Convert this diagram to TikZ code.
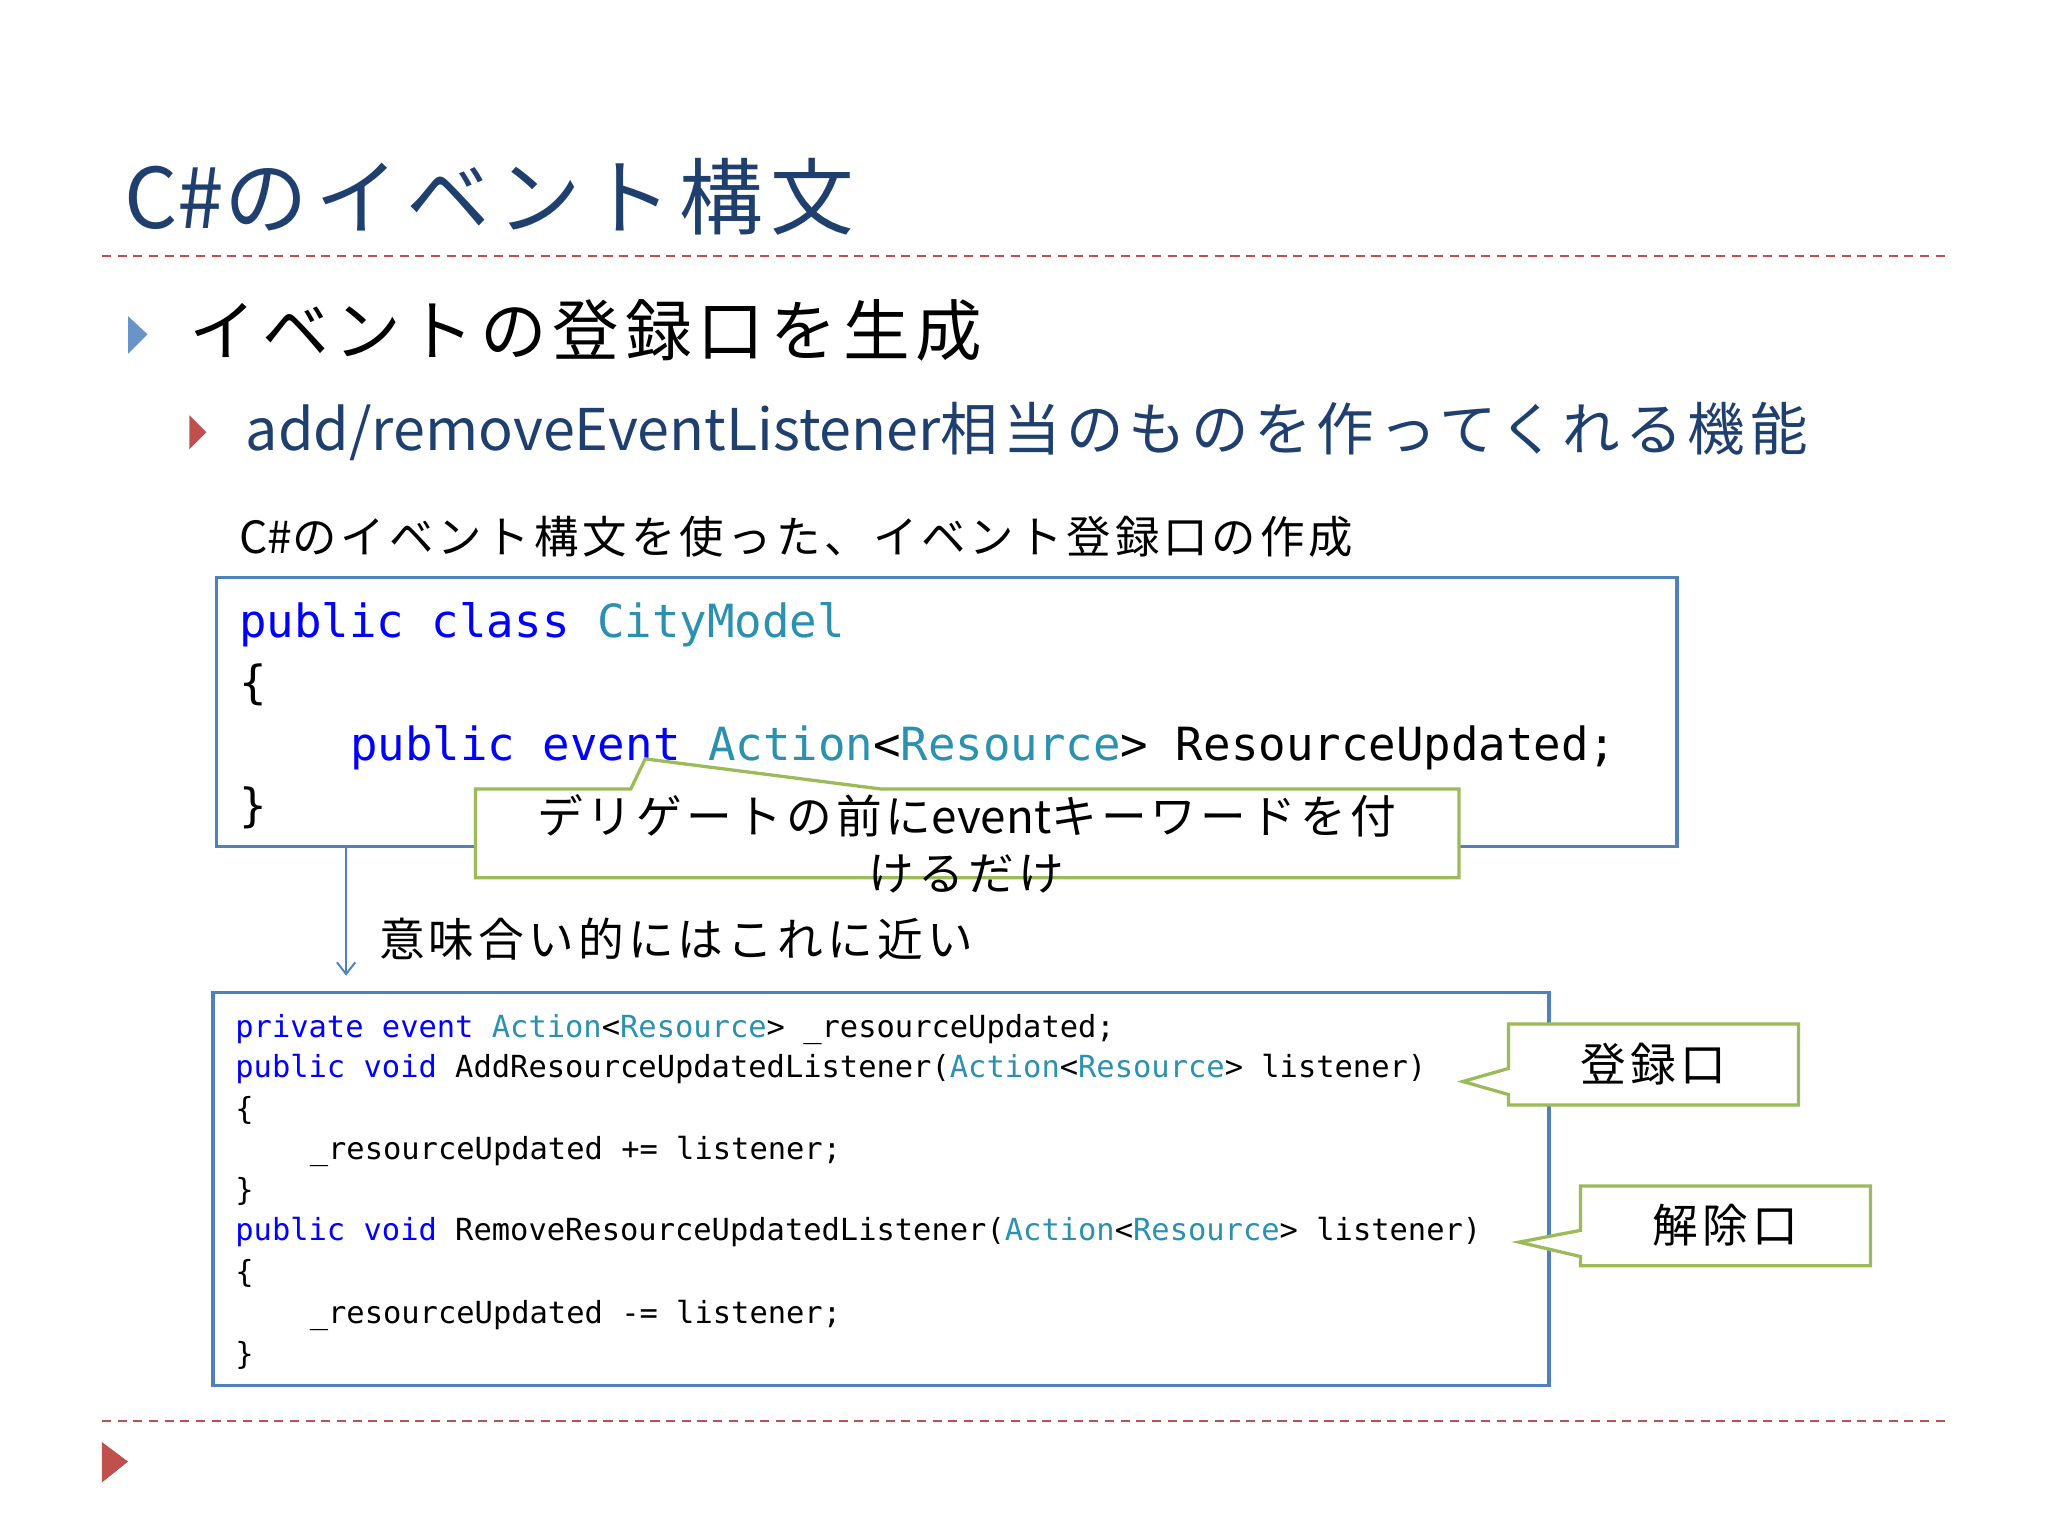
\documentclass[tikz,border=0pt]{standalone}
\usepackage{fontspec}
\setmainfont{Noto Sans CJK JP}
\newfontfamily\jfont[LetterSpace=9]{Noto Sans CJK JP}
\setmonofont{DejaVu Sans Mono}
\usetikzlibrary{arrows.meta}
\definecolor{ttl}{HTML}{1F3F6E}
\definecolor{redd}{HTML}{C0504D}
\definecolor{boxb}{HTML}{4F81BD}
\definecolor{grn}{HTML}{9BBB59}
\definecolor{kw}{HTML}{0000FF}
\definecolor{ty}{HTML}{2B91AF}
\tikzset{txt/.style={anchor=base west,inner sep=0pt},
 sep/.style={redd,dashed,line width=1.5pt,dash pattern=on 7pt off 5pt},
 codebox/.style={draw=boxb,line width=2.5pt},
 callout/.style={draw=grn,line width=2.5pt,fill=white,line join=miter}}
\newcommand{\K}[1]{\textcolor{kw}{#1}}
\newcommand{\T}[1]{\textcolor{ty}{#1}}
\newcommand{\J}[1]{{\jfont #1}}
\begin{document}
\begin{tikzpicture}[x=1pt,y=-1pt]
\useasboundingbox (0,0) rectangle (1568,1176);
\fill[white] (0,0) rectangle (1568,1176);
\node[txt,text=ttl,font=\fontsize{64}{70}\selectfont] (title) at (95,175) {C\#\J{のイベント構文}};
\draw[sep] (78,196) -- (1490,196);
\fill[boxb!85] (98,242) -- (113,256) -- (98,271) -- cycle;
\node[txt,font=\fontsize{51}{56}\selectfont] (b1) at (145,272) {\J{イベントの登録口を生成}};
\fill[redd] (145,318) -- (158,331) -- (145,344) -- cycle;
\node[txt,text=ttl,font=\fontsize{44}{50}\selectfont] (b2) at (188,345) {add/removeEventListener\J{相当のものを作ってくれる機能}};
\node[txt,font=\fontsize{34}{40}\selectfont] (cap) at (183,424) {C\#\J{のイベント構文を使った、イベント登録口の作成}};
\draw[codebox] (166,442) rectangle (1284,648);
\begin{scope}[every node/.style={txt,font=\ttfamily\fontsize{35}{40}\selectfont}]
\node (c1) at (183,488) {\K{public class} \T{CityModel}};
\node (c2) at (183,535) {\{};
\node (c3) at (268,582) {\K{public event} \T{Action}<\T{Resource}> ResourceUpdated;};
\node (c4) at (183,629) {\}};
\end{scope}
\draw[callout] (364,604) -- (483,604) -- (494,581) -- (674,604) -- (1117,604) -- (1117,672) -- (364,672) -- cycle;
\node[font=\fontsize{35}{44}\selectfont,align=center,inner sep=0pt] (co1) at (740,646) {\J{デリゲートの前に}event\J{キーワードを付}\\\J{けるだけ}};
\coordinate (ast) at (265,648);
\coordinate (aen) at (265,747);
\draw[boxb,line width=1.5pt,-{Straight Barb[length=9pt,width=14pt]}] (ast) -- (aen);
\node[txt,font=\fontsize{35}{40}\selectfont] (near) at (290,732) {\J{意味合い的にはこれに近い}};
\draw[codebox] (163,760) rectangle (1186,1061);
\begin{scope}[every node/.style={txt,font=\ttfamily\fontsize{23.3}{28}\selectfont}]
\node (d1) at (180,794) {\K{private event} \T{Action}<\T{Resource}> \_resourceUpdated;};
\node (d2) at (180,825) {\K{public void} AddResourceUpdatedListener(\T{Action}<\T{Resource}> listener)};
\node (d3) at (180,857) {\{};
\node (d4) at (237,888) {\_resourceUpdated += listener;};
\node (d5) at (180,919) {\}};
\node (d6) at (180,950) {\K{public void} RemoveResourceUpdatedListener(\T{Action}<\T{Resource}> listener)};
\node (d7) at (180,982) {\{};
\node (d8) at (237,1013) {\_resourceUpdated -= listener;};
\node (d9) at (180,1045) {\}};
\end{scope}
\draw[callout] (1155,784) -- (1377,784) -- (1377,846) -- (1155,846) -- (1155,838) -- (1120,828) -- (1155,818) -- cycle;
\node[font=\fontsize{35}{40}\selectfont] (reg) at (1266,815) {\J{登録口}};
\draw[callout] (1210,908) -- (1432,908) -- (1432,969) -- (1210,969) -- (1210,962) -- (1163,951) -- (1210,942) -- cycle;
\node[font=\fontsize{35}{40}\selectfont] (unreg) at (1321,938) {\J{解除口}};
\draw[sep] (78,1088) -- (1490,1088);
\fill[redd] (78,1104) -- (98,1119) -- (78,1135) -- cycle;
\end{tikzpicture}
\end{document}
